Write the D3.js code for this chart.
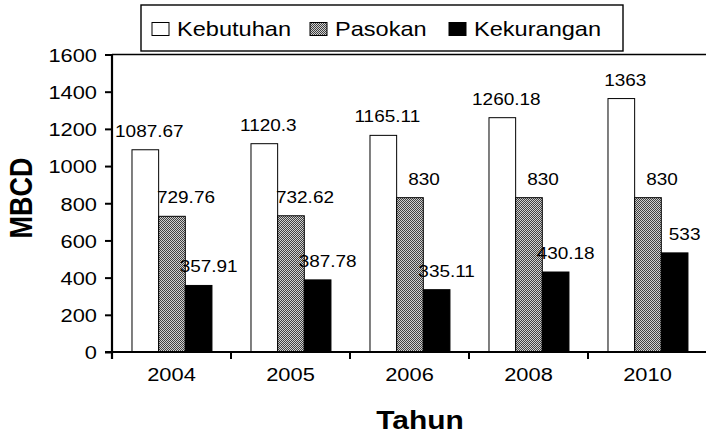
<!DOCTYPE html>
<html><head><meta charset="utf-8">
<script src="https://cdn.jsdelivr.net/npm/d3@7"></script>
<style>
html,body{margin:0;padding:0;background:#fff;}
svg{display:block;}
text{font-family:"Liberation Sans",Arial,sans-serif;fill:#000;}
</style></head>
<body><svg id="c" width="706" height="436"></svg>
<script>
const years = ["2004","2005","2006","2008","2010"];
const seriesNames = ["Kebutuhan","Pasokan","Kekurangan"];
const kebutuhan = [1087.67,1120.3,1165.11,1260.18,1363];
const pasokan = [729.76,732.62,830,830,830];
const kekurangan = [357.91,387.78,335.11,430.18,533];
const yTicks = [0,200,400,600,800,1000,1200,1400,1600];
const yTitle = "MBCD";
const xTitle = "Tahun";

const SX = 1.15; // horizontal text stretch
const svg = d3.select("#c");
const defs = svg.append("defs");
const pat = defs.append("pattern").attr("id","dither").attr("patternUnits","userSpaceOnUse")
  .attr("width",2).attr("height",2);
pat.append("rect").attr("width",2).attr("height",2).attr("fill","#d0d0d0");
pat.append("rect").attr("x",0).attr("y",0).attr("width",1).attr("height",1).attr("fill","#404040");
pat.append("rect").attr("x",1).attr("y",1).attr("width",1).attr("height",1).attr("fill","#404040");

const fills = {"Kebutuhan":"#fff","Pasokan":"url(#dither)","Kekurangan":"#000"};
const labelDx = {"Kebutuhan":4,"Pasokan":14,"Kekurangan":10};
const valuesBy = {"Kebutuhan":kebutuhan,"Pasokan":pasokan,"Kekurangan":kekurangan};

const x0 = d3.scaleBand().domain(years).range([112,707]).paddingInner(0).paddingOuter(0);
const bw = x0.bandwidth();
const x1 = d3.scaleBand().domain(seriesNames).range([bw*0.168, bw*0.84]).padding(0);
const y = d3.scaleLinear().domain([0,1600]).range([352,54.5]);

function stext(g, x, yy, str, size, anchor, weight){
  return g.append("text").attr("transform",`translate(${x},${yy}) scale(${SX},1)`)
    .attr("text-anchor",anchor||"middle").attr("font-size",size).attr("font-weight",weight||"normal").text(str);
}

// top line of plot
svg.append("line").attr("x1",112).attr("x2",706).attr("y1",y(1600)).attr("y2",y(1600))
  .attr("stroke","#000").attr("stroke-width",1.3);

// bars
const rows = years.map((yr,i)=>({year:yr, vals:seriesNames.map(s=>({s, v:valuesBy[s][i]}))}));
const grp = svg.selectAll("g.grp").data(rows).join("g").attr("class","grp")
  .attr("transform",d=>`translate(${x0(d.year)},0)`);
grp.selectAll("rect").data(d=>d.vals).join("rect")
  .attr("x",d=>x1(d.s)).attr("width",x1.bandwidth())
  .attr("y",d=>y(d.v)).attr("height",d=>y(0)-y(d.v))
  .attr("fill",d=>fills[d.s]).attr("stroke","#000").attr("stroke-width",1);
grp.each(function(d){
  const g = d3.select(this);
  d.vals.forEach(v=>{
    stext(g, x1(v.s)+x1.bandwidth()/2+labelDx[v.s], y(v.v)-13, String(v.v), 16.5, "middle");
  });
});

// y axis
const yAx = svg.append("g").attr("transform","translate(112,0)")
  .call(d3.axisLeft(y).tickValues(yTicks).tickSize(7).tickFormat(d3.format("d")));
yAx.select(".domain").attr("stroke","#000").attr("stroke-width",2.2).attr("d",`M0,${y(1600)}V${y(0)+7}`);
yAx.selectAll(".tick line").attr("stroke","#000").attr("stroke-width",2);
yAx.selectAll(".tick text").attr("x",null).attr("dy","0.36em").attr("font-size",19)
  .attr("font-family",'"Liberation Sans",Arial,sans-serif')
  .attr("transform",`translate(-15,0) scale(${SX},1)`).attr("text-anchor","end");

// x axis
const xAx = svg.append("g").attr("transform",`translate(0,${y(0)})`)
  .call(d3.axisBottom(x0).tickSize(0).tickPadding(0));
xAx.select(".domain").attr("stroke","#000").attr("stroke-width",2.2).attr("d","M105,0H706");
xAx.selectAll(".tick text").attr("y",null).attr("dy",null).attr("font-size",19)
  .attr("font-family",'"Liberation Sans",Arial,sans-serif')
  .attr("transform",`translate(0,29) scale(${SX},1)`);
xAx.selectAll("line.bnd").data(years).join("line").attr("class","bnd")
  .attr("x1",d=>x0(d)).attr("x2",d=>x0(d)).attr("y1",0).attr("y2",7)
  .attr("stroke","#000").attr("stroke-width",2);

// axis titles
svg.append("text").attr("transform",`translate(32,198) scale(${SX},1) rotate(-90)`)
  .attr("text-anchor","middle").attr("font-size",27).attr("font-weight","bold").text(yTitle);
stext(svg, 420, 429, xTitle, 26, "middle", "bold");

// legend
const lg = svg.append("g");
lg.append("rect").attr("x",141).attr("y",5).attr("width",482).attr("height",46)
  .attr("fill","#fff").attr("stroke","#000").attr("stroke-width",1.4);
const legX = [152,310,449];
seriesNames.forEach((s,i)=>{
  lg.append("rect").attr("x",legX[i]).attr("y",22.5).attr("width",17).attr("height",13)
    .attr("fill",fills[s]).attr("stroke","#000").attr("stroke-width",1);
  stext(lg, legX[i]+25, 36, s, 20.5, "start");
});
</script></body></html>
